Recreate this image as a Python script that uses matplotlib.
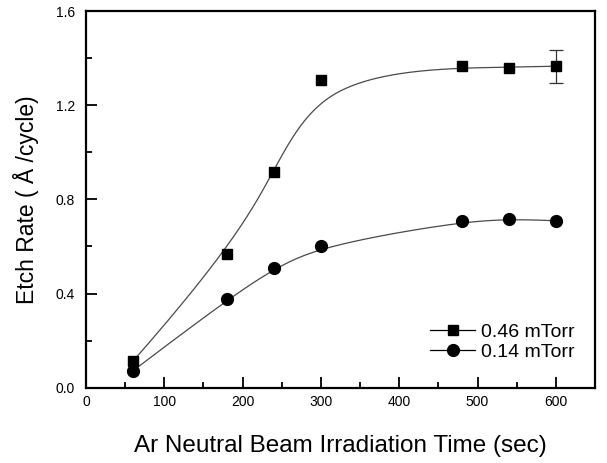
import matplotlib
matplotlib.use("Agg")
import matplotlib.pyplot as plt
import numpy as np
from matplotlib.ticker import MultipleLocator, FormatStrFormatter

plt.rcParams["font.family"] = ["Liberation Sans", "DejaVu Sans"]

# --- data -------------------------------------------------------------------
time_s = [60, 180, 240, 300, 480, 540, 600]
rate_046 = [0.113, 0.567, 0.917, 1.307, 1.366, 1.359, 1.366]
rate_014 = [0.072, 0.375, 0.507, 0.602, 0.708, 0.718, 0.709]
err_046 = [0, 0, 0, 0, 0, 0, 0.07]
labels = ["0.46 mTorr", "0.14 mTorr"]


def bspline(xs, ys, k=3, n=300):
    """Clamped cubic B-spline using the data points as control points."""
    P = np.column_stack([xs, ys]).astype(float)
    m = len(P)
    knots = np.concatenate([np.zeros(k), np.arange(m - k + 1), np.full(k, m - k)])
    t = np.linspace(0, m - k, n)
    t[-1] -= 1e-9
    out = []
    for tt in t:
        j = np.searchsorted(knots, tt, side="right") - 1
        d = [P[j - k + i].copy() for i in range(k + 1)]
        for r in range(1, k + 1):
            for i in range(k, r - 1, -1):
                a = (tt - knots[j - k + i]) / (knots[j + 1 + i - r] - knots[j - k + i])
                d[i] = (1 - a) * d[i - 1] + a * d[i]
        out.append(d[k])
    out = np.array(out)
    return out[:, 0], out[:, 1]


fig = plt.figure(figsize=(6.07, 4.63), dpi=100)
ax = fig.add_axes([0.1417, 0.1626, 0.8385, 0.8136])

for ys, mk, ms, lab in [(rate_046, "s", 7.5, labels[0]), (rate_014, "o", 8.5, labels[1])]:
    cx, cy = bspline(time_s, ys)
    ax.plot(cx, cy, color="#4a4a4a", lw=0.9, zorder=2)
    ax.plot(time_s, ys, ls="none", marker=mk, ms=ms, color="black", zorder=3)
    ax.plot([], [], color="black", lw=0.9, marker=mk, ms=ms, label=lab)

ax.errorbar(time_s[-1], rate_046[-1], yerr=err_046[-1], fmt="none",
            ecolor="#333333", elinewidth=0.9, capsize=5, capthick=0.9, zorder=2)

ax.set_xlim(0, 650)
ax.set_ylim(0, 1.6)
ax.xaxis.set_major_locator(MultipleLocator(100))
ax.xaxis.set_minor_locator(MultipleLocator(50))
ax.yaxis.set_major_locator(MultipleLocator(0.4))
ax.yaxis.set_minor_locator(MultipleLocator(0.2))
ax.yaxis.set_major_formatter(FormatStrFormatter("%.1f"))
ax.tick_params(which="both", direction="in", top=False, right=False, width=1.3,
               labelsize=10, colors="black")
ax.tick_params(axis="y", which="major", length=8, pad=8)
ax.tick_params(axis="x", which="major", length=8, pad=5)
ax.tick_params(which="minor", length=4)
for s in ax.spines.values():
    s.set_linewidth(1.6)

ax.set_xlabel("Ar Neutral Beam Irradiation Time (sec)", fontsize=17.5, labelpad=19)
ax.set_ylabel("Etch Rate ( Å /cycle)", fontsize=16.5, labelpad=12)

ax.legend(loc="lower right", bbox_to_anchor=(0.975, 0.05), frameon=False,
          fontsize=14, handlelength=2.3, handletextpad=0.3, borderaxespad=0,
          labelspacing=0.13)

fig.savefig("out.png", dpi=100)
